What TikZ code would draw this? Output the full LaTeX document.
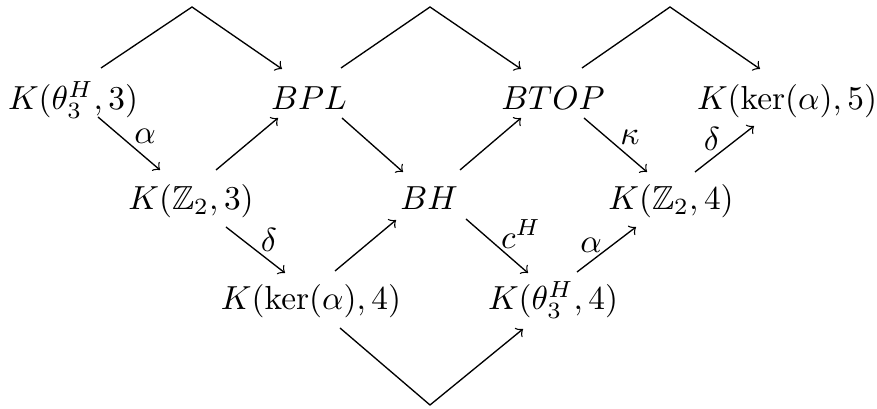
\documentclass[tikz,border=0pt]{standalone}
\usepackage{amssymb}
\begin{document}
\begin{tikzpicture}[x=0.3pt,y=-0.3pt,
  obj/.style={anchor=base,inner sep=0pt},
  lab/.style={inner sep=0pt},
  ar/.style={->,line width=0.4pt},
  ln/.style={line width=0.4pt}]
\useasboundingbox (0,0) rectangle (877,409);
% objects
\node[obj] (t1) at (73,110) {$K(\theta^H_3,3)$};
\node[obj] (t2) at (309,110) {$BPL$};
\node[obj] (t3) at (553,110) {$BTOP$};
\node[obj] (t4) at (787,110) {$K(\ker(\alpha),5)$};
\node[obj] (m1) at (191,210) {$K(\mathbb{Z}_2,3)$};
\node[obj] (m2) at (429,210) {$BH$};
\node[obj] (m3) at (671,210) {$K(\mathbb{Z}_2,4)$};
\node[obj] (b1) at (311,310) {$K(\ker(\alpha),4)$};
\node[obj] (b2) at (553,310) {$K(\theta^H_3,4)$};
% peaks of the long arrows
\coordinate (p1) at (192,7);
\coordinate (p2) at (430,7);
\coordinate (p3) at (670,7);
\coordinate (p4) at (430,405);
% long arrows
\draw[ar] ([shift={(28,-42)}]t1.base) -- (p1) -- ([shift={(-27,-41)}]t2.base);
\draw[ar] ([shift={(32,-42)}]t2.base) -- (p2) -- ([shift={(-32,-41)}]t3.base);
\draw[ar] ([shift={(29,-42)}]t3.base) -- (p3) -- ([shift={(-27,-41)}]t4.base);
\draw[ar] ([shift={(29,18)}]b1.base) -- (p4) -- ([shift={(-30,19)}]b2.base);
% short arrows
\draw[ar] ([shift={(25,7)}]t1.base) -- ([shift={(-31,-40)}]m1.base)
  node[lab] at (145,136) {$\alpha$};
\draw[ar] ([shift={(25,-40)}]m1.base) -- ([shift={(-31,8)}]t2.base);
\draw[ar] ([shift={(33,8)}]t2.base) -- ([shift={(-26,-38)}]m2.base);
\draw[ar] ([shift={(31,-40)}]m2.base) -- ([shift={(-32,8)}]t3.base);
\draw[ar] ([shift={(31,8)}]t3.base) -- ([shift={(-24,-38)}]m3.base)
  node[lab] at (630,137) {$\kappa$};
\draw[ar] ([shift={(24,-38)}]m3.base) -- ([shift={(-33,16)}]t4.base)
  node[lab] at (712,139) {$\delta$};
\draw[ar] ([shift={(35,17)}]m1.base) -- ([shift={(-26,-37)}]b1.base)
  node[lab] at (269,240) {$\delta$};
\draw[ar] ([shift={(24,-39)}]b1.base) -- ([shift={(-33,10)}]m2.base);
\draw[ar] ([shift={(37,9)}]m2.base) -- ([shift={(-25,-37)}]b2.base)
  node[lab] at (521,234) {$c^H$};
\draw[ar] ([shift={(24,-38)}]b2.base) -- ([shift={(-35,17)}]m3.base)
  node[lab] at (591,245) {$\alpha$};
\end{tikzpicture}
\end{document}
